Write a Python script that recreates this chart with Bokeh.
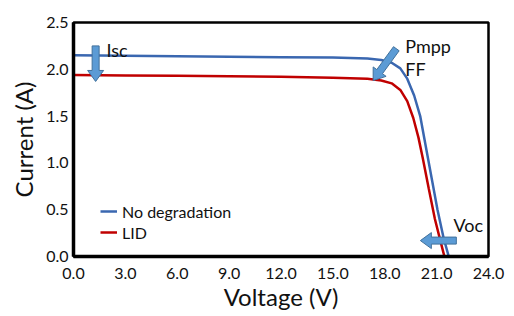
from bokeh.plotting import figure
from bokeh.models import Range1d, FixedTicker, NumeralTickFormatter, Legend, LegendItem, Label
from bokeh.embed import file_html
from bokeh.resources import INLINE
import math

# ---- data ----
v_nodeg = [0, 3, 6, 9, 12, 15, 17, 17.8, 18.4, 18.9, 19.3, 19.7, 20.05, 20.35, 20.7, 21.05, 21.4, 21.7]
i_nodeg = [2.15, 2.145, 2.14, 2.135, 2.13, 2.125, 2.115, 2.10, 2.07, 2.01, 1.90, 1.72, 1.50, 1.20, 0.85, 0.50, 0.20, 0.0]
v_lid = [0, 3, 6, 9, 12, 15, 17, 17.8, 18.4, 18.9, 19.3, 19.65, 19.95, 20.2, 20.55, 20.9, 21.2, 21.45]
i_lid = [1.94, 1.935, 1.93, 1.925, 1.92, 1.91, 1.90, 1.88, 1.85, 1.78, 1.66, 1.48, 1.27, 1.05, 0.72, 0.40, 0.18, 0.0]
x_ticks = [0, 3, 6, 9, 12, 15, 18, 21, 24]
y_ticks = [0, 0.5, 1.0, 1.5, 2.0, 2.5]
series_names = ["No degradation", "LID"]
series_colors = ["#3A67B0", "#C00000"]

# annotation arrows (start V, start I, tip V, tip I)
arrows = [
    (1.28, 2.25, 1.28, 1.87),
    (18.67, 2.22, 17.33, 1.88),
    (22.14, 0.17, 20.06, 0.17),
]
notes = [("Isc", 1.91, 2.21), ("Pmpp", 19.19, 2.25), ("FF", 19.19, 2.0), ("Voc", 21.97, 0.34)]

XMAX, YMAX = 24.0, 2.5
FW, FH = 415, 234
FONT = "Lato"

p = figure(frame_width=FW, frame_height=FH, output_backend="svg", toolbar_location=None,
           x_range=Range1d(0, XMAX), y_range=Range1d(0, YMAX),
           min_border_left=73, min_border_right=26, min_border_top=22, min_border_bottom=60)
p.background_fill_color = "white"
p.border_fill_color = "white"
p.outline_line_color = "black"
p.outline_line_width = 2.5
p.xgrid.visible = False
p.ygrid.visible = False

for ax in (p.xaxis[0], p.yaxis[0]):
    ax.major_tick_in = 0
    ax.major_tick_out = 0
    ax.minor_tick_in = 0
    ax.minor_tick_out = 0
    ax.axis_line_width = 3.5
    ax.axis_line_color = "black"
    ax.major_label_text_font = FONT
    ax.major_label_text_font_size = "16px"
    ax.major_label_text_color = "#111111"
    ax.axis_label_text_font = FONT
    ax.axis_label_text_font_size = "24px"
    ax.axis_label_text_font_style = "normal"
    ax.axis_label_text_color = "#111111"

p.xaxis.ticker = FixedTicker(ticks=x_ticks)
p.yaxis.ticker = FixedTicker(ticks=y_ticks)
p.xaxis.formatter = NumeralTickFormatter(format="0.0")
p.yaxis.formatter = NumeralTickFormatter(format="0.0")
p.xaxis.axis_label = "Voltage (V)"
p.yaxis.axis_label = "Current (A)"
p.xaxis.major_label_standoff = 11
p.yaxis.major_label_standoff = 5
p.xaxis.axis_label_standoff = 0
p.yaxis.axis_label_standoff = 5

r1 = p.line(v_nodeg, i_nodeg, line_color=series_colors[0], line_width=2.5)
r2 = p.line(v_lid, i_lid, line_color=series_colors[1], line_width=2.5)

legend = Legend(items=[LegendItem(label=series_names[0], renderers=[r1]),
                       LegendItem(label=series_names[1], renderers=[r2])],
                location=(27, 14), padding=0, margin=0, spacing=1,
                glyph_width=17, glyph_height=20, label_height=20, label_standoff=5,
                label_text_font=FONT, label_text_font_size="16px", label_text_color="#111111",
                border_line_color=None, background_fill_alpha=0)
p.add_layout(legend)

# block arrows: built in pixel space, converted to data space
sx = FW / XMAX
sy = FH / YMAX
SHAFT, HEADW, HEADL = 7.0, 16.0, 11.0
for (x0, y0, x1, y1) in arrows:
    px0, py0, px1, py1 = x0 * sx, y0 * sy, x1 * sx, y1 * sy
    dx, dy = px1 - px0, py1 - py0
    L = math.hypot(dx, dy)
    ux, uy = dx / L, dy / L
    nx, ny = -uy, ux
    bx, by = px1 - ux * HEADL, py1 - uy * HEADL
    pts = [
        (px0 + nx * SHAFT / 2, py0 + ny * SHAFT / 2),
        (bx + nx * SHAFT / 2, by + ny * SHAFT / 2),
        (bx + nx * HEADW / 2, by + ny * HEADW / 2),
        (px1, py1),
        (bx - nx * HEADW / 2, by - ny * HEADW / 2),
        (bx - nx * SHAFT / 2, by - ny * SHAFT / 2),
        (px0 - nx * SHAFT / 2, py0 - ny * SHAFT / 2),
    ]
    xs = [q[0] / sx for q in pts]
    ys = [q[1] / sy for q in pts]
    p.patch(xs, ys, fill_color="#5B9BD5", line_color="#41719C", line_width=1)

for (t, x, y) in notes:
    p.add_layout(Label(x=x, y=y, text=t, text_font=FONT, text_font_size="18px",
                       text_color="#111111", text_baseline="alphabetic"))

open("out.html", "w").write(file_html(p, INLINE))
